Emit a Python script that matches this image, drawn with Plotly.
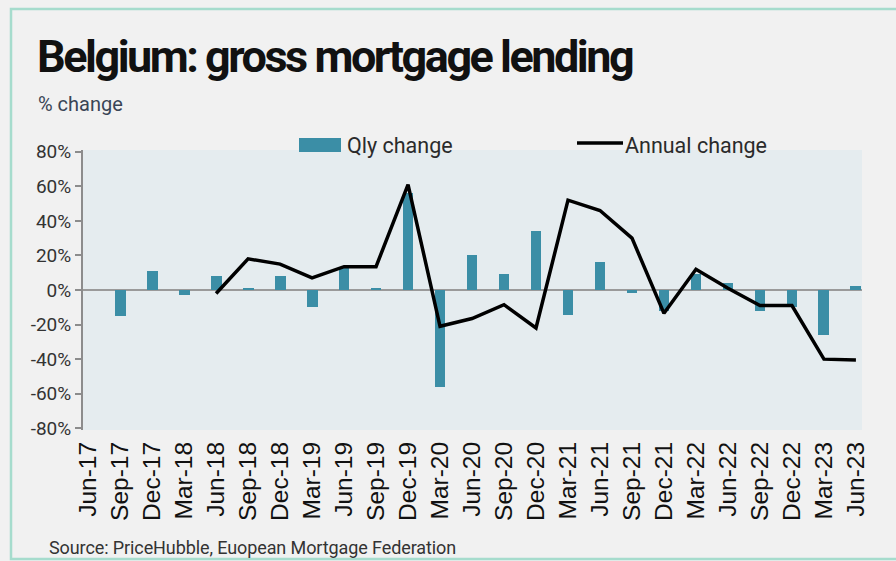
import plotly.graph_objects as go

# Quarterly periods
quarters = ["Jun-17", "Sep-17", "Dec-17", "Mar-18", "Jun-18", "Sep-18", "Dec-18",
            "Mar-19", "Jun-19", "Sep-19", "Dec-19", "Mar-20", "Jun-20", "Sep-20",
            "Dec-20", "Mar-21", "Jun-21", "Sep-21", "Dec-21", "Mar-22", "Jun-22",
            "Sep-22", "Dec-22", "Mar-23", "Jun-23"]

# Quarter-on-quarter change in gross mortgage lending (%)
qly_change = [None, -15, 11, -3, 8, 1, 8, -10, 12.5, 1, 56, -56, 20.5, 9.5,
              34, -14.5, 16, -2, -12, 9, 4, -12, -10, -26, 2.5]

# Year-on-year change in gross mortgage lending (%)
annual_change = [None, None, None, None, -2, 18, 15, 7, 13.5, 13.5, 61, -21,
                 -16.5, -8.5, -22, 52, 46, 30, -13.5, 12, 1, -9, -9, -40, -40.5]

y_ticks = [80, 60, 40, 20, 0, -20, -40, -60, -80]
y_tick_text = [f"{v}%" for v in y_ticks]

BAR_COLOR = "#3b8ea6"
PAGE_BG = "#f1f1f1"
PLOT_BG = "#e5ecef"

W, H = 896, 561
L, R, T, B = 83, 34, 150, 131
PW, PH = W - L - R, H - T - B

def px(x):
    return (x - L) / PW

def py(y):
    return (H - B - y) / PH

x_idx = list(range(len(quarters)))

fig = go.Figure()
fig.add_trace(go.Bar(x=x_idx, y=qly_change, name="Qly change",
                     marker=dict(color=BAR_COLOR, line=dict(width=0)),
                     width=0.34, showlegend=False))
fig.add_trace(go.Scatter(x=x_idx, y=annual_change, name="Annual change",
                         mode="lines", line=dict(color="#000000", width=3.5),
                         showlegend=False))

shapes = [
    # outer frame
    dict(type="rect", xref="paper", yref="paper",
         x0=px(11), x1=px(W + 5), y0=py(559), y1=py(9),
         line=dict(color="#a6dccd", width=2.5), fillcolor="rgba(0,0,0,0)",
         layer="below"),
    # legend swatches
    dict(type="rect", xref="paper", yref="paper",
         x0=px(299), x1=px(341), y0=py(152), y1=py(138),
         fillcolor=BAR_COLOR, line=dict(width=0)),
    dict(type="line", xref="paper", yref="paper",
         x0=px(577), x1=px(623), y0=py(143), y1=py(143),
         line=dict(color="#000000", width=3.5)),
]

title_text = ('<span style="letter-spacing:-2.5px"><b>Belgium: gross mortgage '
              'lending</b></span>')

annotations = [
    dict(text=title_text, xref="paper", yref="paper",
         x=px(35), y=py(56), xanchor="left", yanchor="middle", showarrow=False,
         font=dict(family="Roboto, Liberation Sans, sans-serif",
                   size=45, color="#111111")),
    dict(text="% change", xref="paper", yref="paper",
         x=px(36), y=py(104), xanchor="left", yanchor="middle", showarrow=False,
         font=dict(family="Roboto, sans-serif", size=20, color="#3a4556")),
    dict(text="Qly change", xref="paper", yref="paper",
         x=px(345), y=py(145), xanchor="left", yanchor="middle", showarrow=False,
         font=dict(family="Roboto, sans-serif", size=21.5, color="#2b2b2b")),
    dict(text="Annual change", xref="paper", yref="paper",
         x=px(623), y=py(145), xanchor="left", yanchor="middle", showarrow=False,
         font=dict(family="Roboto, sans-serif", size=21.5, color="#2b2b2b")),
    dict(text='<span style="letter-spacing:-0.1px">Source: PriceHubble, '
              'Euopean Mortgage Federation</span>', xref="paper",
         yref="paper", x=px(47), y=py(547), xanchor="left", yanchor="middle",
         showarrow=False,
         font=dict(family="Roboto, sans-serif", size=18, color="#333333")),
]

fig.update_layout(
    width=W, height=H,
    margin=dict(l=L, r=R, t=T, b=B),
    paper_bgcolor=PAGE_BG, plot_bgcolor=PLOT_BG,
    shapes=shapes, annotations=annotations,
    bargap=0,
)
fig.update_xaxes(
    tickmode="array", tickvals=x_idx, ticktext=quarters, tickangle=-90,
    range=[-0.16, 24.19], showgrid=False, zeroline=False, showline=False,
    ticks="", ticklabelstandoff=6,
    tickfont=dict(family="Liberation Sans, Arial, sans-serif",
                  size=24.5, color="#111111"),
)
fig.update_yaxes(
    tickmode="array", tickvals=y_ticks, ticktext=y_tick_text,
    range=[-81, 81], showgrid=False, zeroline=True, zerolinecolor="#9a9a9a",
    zerolinewidth=2, showline=True, linecolor="#8c8c8c", linewidth=2,
    ticks="outside", ticklen=6, tickwidth=2, tickcolor="#8c8c8c",
    tickfont=dict(family="Roboto, sans-serif", size=19, color="#333333"),
)

fig.write_html("out.html")
